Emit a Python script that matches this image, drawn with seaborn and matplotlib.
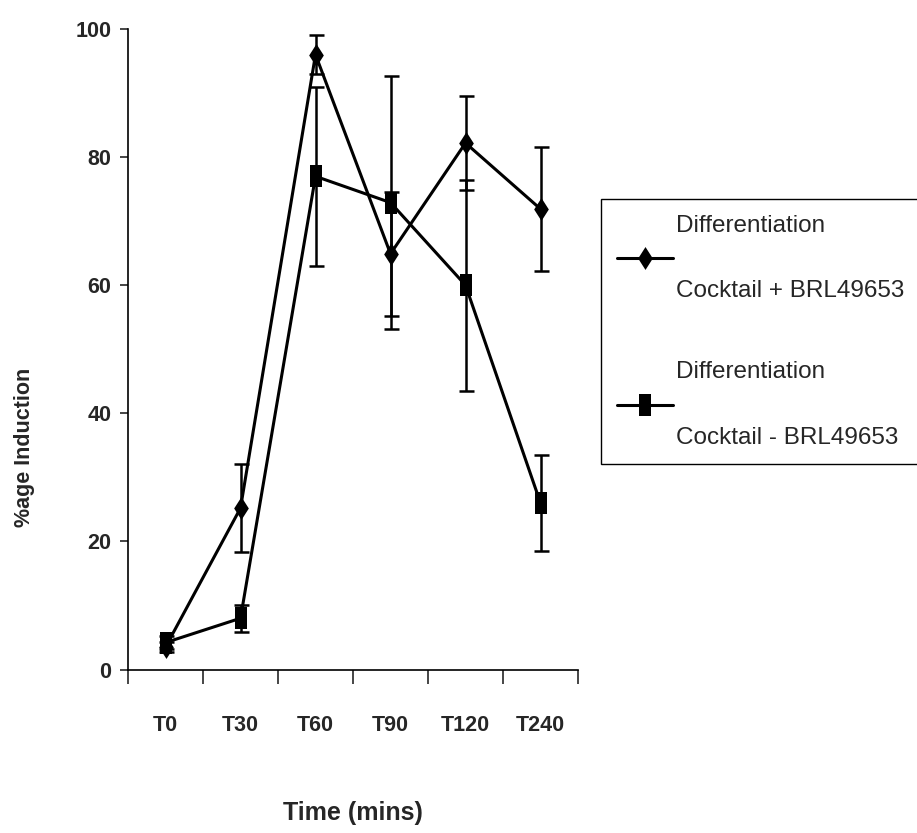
import numpy as np
import pandas as pd
import matplotlib
matplotlib.use("Agg")
import matplotlib.pyplot as plt
import seaborn as sns

# ---- data ----
categories = ["T0", "T30", "T60", "T90", "T120", "T240"]
plus_mean = [3.5, 25.2, 96.0, 64.9, 82.2, 71.9]
plus_err = [0.8, 6.9, 3.1, 9.7, 7.4, 9.7]
minus_mean = [4.2, 8.0, 77.0, 72.9, 60.0, 26.0]
minus_err = [1.0, 2.1, 14.0, 19.7, 16.5, 7.5]
label_plus = "Differentiation\n\nCocktail + BRL49653"
label_minus = "Differentiation\n\nCocktail - BRL49653"
yticks = [0, 20, 40, 60, 80, 100]

sns.set_style("ticks")
plt.rcParams["font.family"] = ["Liberation Sans", "DejaVu Sans"]

x = np.arange(len(categories))
df = pd.DataFrame({"x": x, "plus": plus_mean, "minus": minus_mean})

diamond = [(0, 1), (0.64, 0), (0, -1), (-0.64, 0), (0, 1)]
rect = [(-0.55, -1), (0.55, -1), (0.55, 1), (-0.55, 1), (-0.55, -1)]

fig = plt.figure(figsize=(9.17, 8.33), dpi=100)
ax = fig.add_axes([128 / 917, 1 - 669.5 / 833, 450 / 917, 640.5 / 833])

ekw = dict(fmt="none", ecolor="black", elinewidth=1.8, capsize=5.4, capthick=1.8)
ax.errorbar(x, plus_mean, yerr=plus_err, **ekw)
ax.errorbar(x, minus_mean, yerr=minus_err, **ekw)

sns.lineplot(data=df, x="x", y="plus", ax=ax, color="black", linewidth=2.2,
             marker=diamond, markersize=16.5, markeredgewidth=0,
             markerfacecolor="black", label=label_plus)
sns.lineplot(data=df, x="x", y="minus", ax=ax, color="black", linewidth=2.2,
             marker=rect, markersize=16.5, markeredgewidth=0,
             markerfacecolor="black", label=label_minus)

ax.set_xlim(-0.5, len(categories) - 0.5)
ax.set_ylim(0, 100)
ax.set_yticks(yticks)
ax.set_yticklabels([str(v) for v in yticks], fontsize=15.5, fontweight="bold")
ax.set_xticks(np.arange(-0.5, len(categories), 1.0))
ax.set_xticklabels([])
ax.set_xticks(x, minor=True)
ax.set_xticklabels(categories, minor=True, fontsize=15.5, fontweight="bold")
ax.tick_params(axis="x", which="major", length=10, width=1.2, direction="out")
ax.tick_params(axis="x", which="minor", length=0, pad=33)
ax.tick_params(axis="y", length=6, width=1.2, direction="out", pad=6)

for s in ["top", "right"]:
    ax.spines[s].set_visible(False)
for s in ["left", "bottom"]:
    ax.spines[s].set_linewidth(1.2)
    ax.spines[s].set_color("black")

ax.set_xlabel("Time (mins)", fontsize=18, fontweight="bold")
ax.set_ylabel("%age Induction", fontsize=15.5, fontweight="bold")
ax.xaxis.set_label_coords(0.5, -0.206)
ax.yaxis.set_label_coords(-0.207, 0.347)

leg = ax.legend(loc="upper left", bbox_to_anchor=(601 / 917, 1 - 199 / 833),
                bbox_transform=fig.transFigure, borderaxespad=0,
                frameon=True, fancybox=False, edgecolor="black",
                fontsize=17.5, handlelength=2.3, handletextpad=0.15,
                labelspacing=2.45, borderpad=0.65)
leg.get_frame().set_linewidth(1.0)
leg.get_frame().set_alpha(1)
for t in leg.get_texts():
    t.set_linespacing(1.62)

fig.savefig("out.png", dpi=100, facecolor="white")
